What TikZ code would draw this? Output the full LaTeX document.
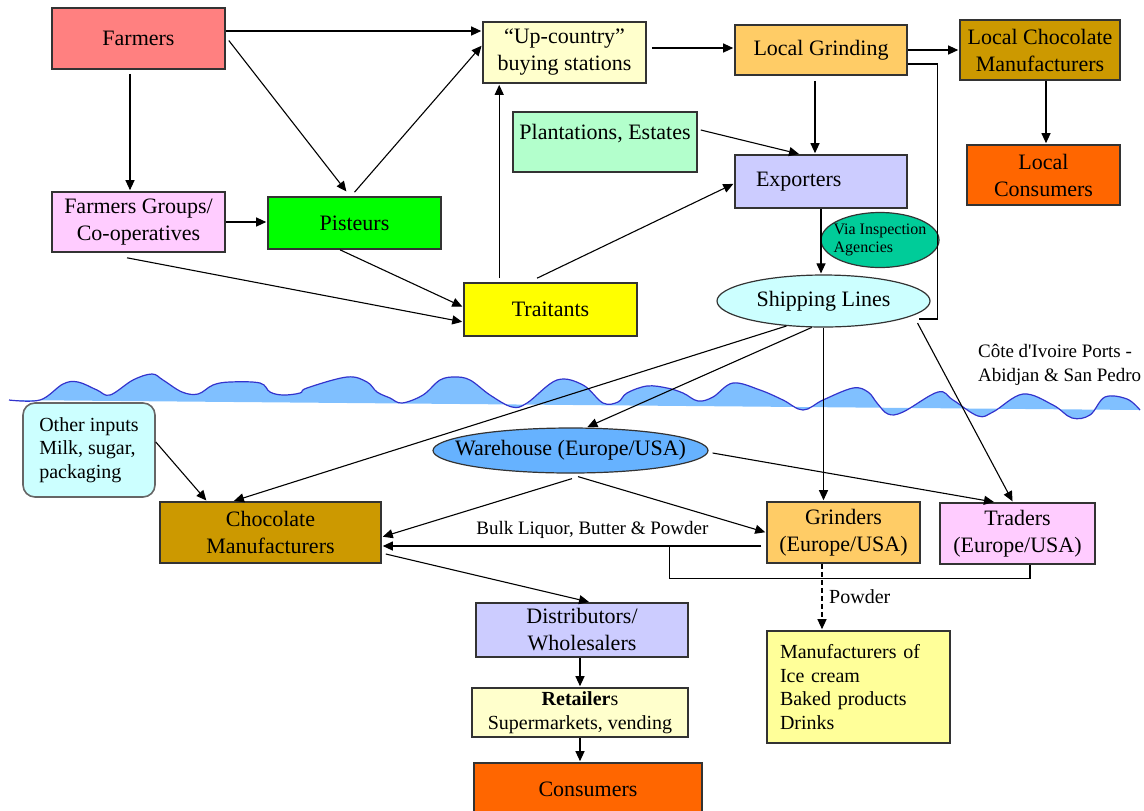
\documentclass[tikz,border=0pt]{standalone}
\usepackage{fontspec}
\setmainfont{Liberation Serif}
\usetikzlibrary{arrows.meta,shapes.geometric,positioning}
\definecolor{farmcol}{HTML}{FF8080}
\definecolor{creamcol}{HTML}{FFFFCC}
\definecolor{grindcol}{HTML}{FFCC66}
\definecolor{chococol}{HTML}{CC9900}
\definecolor{orangecol}{HTML}{FF6600}
\definecolor{mintcol}{HTML}{B3FFCC}
\definecolor{lilaccol}{HTML}{CCCCFF}
\definecolor{tealcol}{HTML}{00CC99}
\definecolor{pinkcol}{HTML}{FFCCFF}
\definecolor{greencol}{HTML}{00FF00}
\definecolor{yellowcol}{HTML}{FFFF00}
\definecolor{cyancol}{HTML}{CCFFFF}
\definecolor{bluecol}{HTML}{66B2FF}
\definecolor{lemoncol}{HTML}{FFFF99}
\definecolor{wavecol}{HTML}{80C0FF}
\definecolor{wavelinecol}{HTML}{3333CC}
\begin{document}
\begin{tikzpicture}[x=0.5pt, y=-0.5pt,
    box/.style = {draw=black!80, line width=0.8pt, inner sep=2pt, align=center, font=\fontsize{11}{13.5}\selectfont},
    oval/.style = {draw=black!80, line width=0.6pt, ellipse, inner sep=0pt, align=center, font=\fontsize{11}{13.5}\selectfont},
    arr/.style = {-{Triangle[length=5pt,width=4.5pt]}, line width=0.55pt, shorten >=0.5pt},
    conn/.style = {line width=0.55pt},
    small/.style = {font=\fontsize{10}{11.8}\selectfont}]
\useasboundingbox (0,0) rectangle (1144,810);

% sea line at the ports
\filldraw[fill=wavecol, draw=wavelinecol, line width=0.6pt] plot[smooth, tension=0.6] coordinates {
  (9,400) (40,400) (63,384) (78,382) (97,390) (110,395) (133,380) (152,374) (163,380) (182,392)
  (198,394) (213,385) (230,382) (260,383) (270,392) (283,395) (300,393) (307,388) (347,377) (367,382)
  (377,392) (390,398) (402,403) (423,395) (440,380) (455,377) (470,380) (490,395) (512,407) (527,403)
  (557,380) (583,385) (603,403) (618,402) (627,393) (647,386) (667,388) (683,393) (698,401) (713,397)
  (733,383) (760,390) (783,400) (803,410) (823,400) (853,388) (868,392) (877,403) (888,414) (903,412)
  (938,392) (953,400) (978,416) (993,412) (1023,394) (1053,405) (1072,418) (1090,415) (1105,397)
  (1127,399) (1140,410)};

% producing country
\node[box, fill=farmcol, minimum width=86.5pt, minimum height=30.5pt] (farmers) at (138.5,38.5) {Farmers};
\node[box, fill=creamcol, minimum width=81.5pt, minimum height=30.5pt] (upcountry) at (564.5,52.5) {“Up-country”\\buying stations};
\node[box, fill=grindcol, minimum width=86pt, minimum height=25pt] (lgrind) at (821,50) {Local Grinding};
\node[box, fill=chococol, minimum width=80pt, minimum height=30pt] (lchoc) at (1040,50) {Local Chocolate\\Manufacturers};
\node[box, fill=orangecol, minimum width=76.5pt, minimum height=30pt] (lcons) at (1043.5,175) {Local\\Consumers};
\node[box, fill=mintcol, minimum width=92pt, minimum height=30pt, inner xsep=1pt, text height=8pt, text depth=11pt] (plant) at (605,142) {Plantations, Estates};
\node[box, fill=lilaccol, minimum width=86pt, minimum height=26.5pt, align=left, text width=65pt, inner xsep=10.5pt] (exporters) at (821,181.5) {Exporters};
\node[oval, fill=tealcol, minimum width=59pt, minimum height=27.5pt, inner xsep=-5pt, align=left, font=\fontsize{8}{9}\selectfont] (inspect) at (880,240) {Via Inspection\\Agencies};
\node[box, fill=pinkcol, minimum width=86.5pt, minimum height=30pt] (fgroups) at (138.5,222) {Farmers Groups/\\Co-operatives};
\node[box, fill=greencol, minimum width=86.5pt, minimum height=26pt] (pisteurs) at (354.5,223) {Pisteurs};
\node[box, fill=yellowcol, minimum width=86.5pt, minimum height=26.5pt] (traitants) at (550.5,309.5) {Traitants};
\node[oval, fill=cyancol, minimum width=106.5pt, minimum height=26pt] (shipping) at (823.5,301) {Shipping Lines};
\node[anchor=west, align=left, font=\fontsize{9.5}{12}\selectfont] (ports) at (971,365) {Côte d\textquotesingle Ivoire Ports -\\Abidjan \& San Pedro};

% consuming countries
\node[box, draw=black!60, rounded corners=6pt, fill=cyancol, minimum width=66pt, minimum height=47pt, align=left, small] (others) at (89,450) {Other inputs\\Milk, sugar,\\packaging};
\node[oval, fill=bluecol, minimum width=137.5pt, minimum height=22.5pt, inner xsep=-22pt] (warehouse) at (570.5,450.5) {Warehouse (Europe/USA)};
\node[box, fill=chococol, minimum width=110.5pt, minimum height=30.5pt] (chocman) at (270.5,532.5) {Chocolate\\Manufacturers};
\node[box, fill=grindcol, minimum width=76.5pt, minimum height=30.5pt] (grinders) at (843.5,532.5) {Grinders\\(Europe/USA)};
\node[box, fill=pinkcol, minimum width=77.5pt, minimum height=30.5pt] (traders) at (1017.5,533.5) {Traders\\(Europe/USA)};
\node[box, fill=lilaccol, minimum width=106pt, minimum height=27pt] (distrib) at (582,630) {Distributors/\\Wholesalers};
\node[box, fill=creamcol, minimum width=108pt, minimum height=24.5pt, inner sep=1pt, small] (retail) at (580,712.5) {\textbf{Retailer}s\\Supermarkets, vending};
\node[box, fill=orangecol, minimum width=114pt, minimum height=26pt] (consumers) at (588,789) {Consumers};
\node[box, fill=lemoncol, minimum width=91.5pt, minimum height=56pt, align=left, text width=78.5pt, inner xsep=6.5pt, small] (icecream) at (858.5,687) {Manufacturers of\\Ice cream\\Baked products\\Drinks};

% flows inside the country
\draw[arr] ([yshift=3.75pt]farmers.east) coordinate (f1) -- (f1 -| upcountry.west);
\draw[arr] ([xshift=1.5pt,yshift=-1pt]farmers.east) -- ([xshift=-3.75pt,yshift=2pt]pisteurs.north);
\draw[arr] ([xshift=-4.25pt,yshift=-2pt]farmers.south) coordinate (f2) -- (f2 |- fgroups.north);
\draw[arr] (fgroups.east) -- (fgroups.east -| pisteurs.west);
\draw[arr] ([yshift=2pt]pisteurs.north) -- ([yshift=3.75pt]upcountry.west);
\draw[arr] ([xshift=-7.25pt]pisteurs.south) -- ([yshift=1.25pt]traitants.west);
\draw[arr] ([xshift=-5.75pt,yshift=-2.5pt]fgroups.south) -- ([yshift=-6.25pt]traitants.west);
\draw[arr] ([xshift=18pt,yshift=2pt]traitants.north west) coordinate (t1) -- (t1 |- upcountry.south);
\draw[arr] ([xshift=-6.75pt,yshift=2pt]traitants.north) -- ([yshift=-1pt]exporters.west);
\draw[arr] ([xshift=2.5pt,yshift=2.25pt]upcountry.east) coordinate (u1) -- (u1 -| lgrind.west);
\draw[arr] (lgrind.east) -- (lgrind.east -| lchoc.west);
\draw[arr] ([xshift=3pt]lchoc.south) coordinate (c1) -- (c1 |- lcons.north);
\draw[arr] ([xshift=-3pt,yshift=-2.5pt]lgrind.south) coordinate (g1) -- (g1 |- exporters.north);
\draw[arr] ([xshift=1.5pt,yshift=6pt]plant.east) -- ([xshift=-10.5pt]exporters.north);
\draw[arr] (exporters.south) -- (exporters.south |- shipping.north);
\draw[conn] ([yshift=-7pt]lgrind.east) -- ++(15pt,0) |- ([xshift=-6pt,yshift=-9pt]shipping.east);

% flows overseas
\draw[arr] (shipping.214) -- ([xshift=-18.75pt]chocman.north);
\draw[arr] (shipping.246) -- ([xshift=8pt]warehouse.north);
\draw[arr] (shipping.south) -- (shipping.south |- grinders.north);
\draw[arr] ([shift={(47pt,-11pt)}]shipping.center) -- ([xshift=-2.25pt]traders.north);
\draw[arr] ([yshift=4pt]others.east) -- ([xshift=-31.75pt]chocman.north);
\draw[arr] ([xshift=2pt,yshift=-1.25pt]warehouse.east) -- ([xshift=-11.25pt]traders.north);
\draw[arr] ([xshift=3.75pt,yshift=-1.5pt]warehouse.south) -- (grinders.west);
\draw[arr] ([xshift=0.75pt,yshift=-2.5pt]warehouse.south) -- ([yshift=-2.25pt]chocman.east);
\draw[arr] ([xshift=-2.5pt,yshift=-6.75pt]grinders.west) coordinate (g2) -- (g2 -| chocman.east)
    node[pos=0.445, above, font=\fontsize{9.5}{11}\selectfont] (bulk) {Bulk Liquor, Butter \& Powder}
    coordinate[pos=0.241] (b1);
\draw[conn] ([xshift=6.25pt]traders.south) -- ++(0,-7pt) -| (b1);
\draw[arr] ([xshift=2pt,yshift=-10.75pt]chocman.east) -- ([xshift=4pt]distrib.north);
\draw[arr, dash pattern=on 2.5pt off 1.5pt] ([xshift=-10.75pt]grinders.south) coordinate (g3) -- (g3 |- icecream.north)
    node[midway, right, small] (powder) {Powder};
\draw[arr] ([xshift=-1pt]distrib.south) coordinate (d1) -- (d1 |- retail.north);
\draw[arr] (retail.south) -- (retail.south |- consumers.north);
\end{tikzpicture}
\end{document}
